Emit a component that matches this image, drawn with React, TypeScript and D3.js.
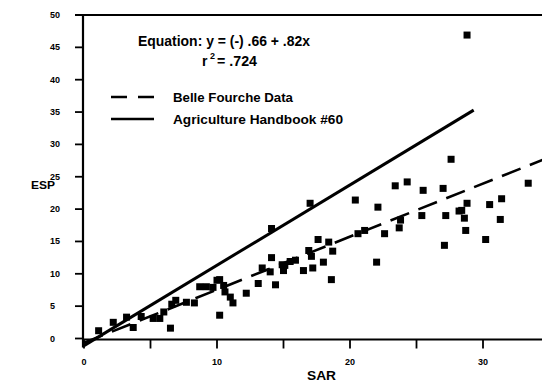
import React, { useEffect, useRef } from 'react';
import * as d3 from 'd3';

// Belle Fourche samples: SAR (x) and ESP (y)
const sar = [
	1.1, 2.2, 3.2, 3.7, 4.3, 5.2, 5.7, 6.0, 6.5, 6.6, 6.9, 7.7, 8.3, 8.7, 9.2, 9.7, 10.0, 10.2, 10.5, 10.6,
	11.0, 11.2, 10.2, 12.2, 13.1, 13.4, 14.1, 14.0, 14.4, 14.9, 15.5, 15.1, 15.0, 15.9, 16.5, 16.9, 17.1, 17.2,
	17.6, 18.0, 18.4, 18.7, 18.6, 14.1, 17.0, 20.4, 20.6, 21.1, 22.0, 22.1, 22.6, 23.7, 23.8, 23.4, 24.3, 25.5,
	25.4, 27.0, 27.2, 27.1, 27.6, 28.2, 28.4, 28.8, 28.6, 28.7, 28.8, 30.2, 30.5, 31.3, 31.4, 33.4,
];
const esp = [
	1.2, 2.5, 3.3, 1.7, 3.4, 3.1, 3.1, 4.1, 1.6, 5.3, 5.9, 5.6, 5.5, 8.0, 8.0, 7.9, 9.0, 9.1, 8.2, 7.2,
	6.4, 5.5, 3.6, 7.0, 8.5, 10.9, 12.5, 10.3, 8.3, 11.4, 11.9, 11.3, 10.5, 12.1, 10.5, 13.6, 12.7, 10.9,
	15.3, 11.8, 14.9, 13.5, 9.1, 17.0, 20.9, 21.4, 16.2, 16.7, 11.8, 20.3, 16.2, 17.1, 18.3, 23.6, 24.2, 22.9,
	19.0, 23.2, 19.0, 14.4, 27.7, 19.7, 19.8, 20.9, 18.6, 16.7, 46.9, 15.3, 20.7, 18.4, 21.6, 24.0,
];

// regression: y = -0.66 + 0.82x, drawn across the SAR range
const fitSar = [0, 34.5];
const fitEsp = fitSar.map(v => -0.66 + 0.82 * v);

// Agriculture Handbook #60 line
const handbookSar = [0, 29.3];
const handbookEsp = [-1.1, 35.3];

const yTicks = [0, 5, 10, 15, 20, 25, 30, 35, 40, 45, 50];
const xTicks = [0, 5, 10, 15, 20, 25, 30];
const xLabels = [0, 10, 20, 30];

const App = () => {
	const container = useRef(null);

	useEffect(() => {
		const node = container.current;
		const width = 542;
		const height = 383;
		const font = 'Liberation Sans, Arial, Helvetica, sans-serif';

		const x = d3.scaleLinear().domain([0, 30]).range([84, 483]);
		const y = d3.scaleLinear().domain([0, 50]).range([338.5, 15]);

		const svg = d3
			.select(node)
			.selectAll('svg')
			.data([0])
			.join('svg')
			.attr('width', width)
			.attr('height', height)
			.style('position', 'absolute')
			.style('left', '0px')
			.style('top', '0px')
			.style('background', '#fff')
			.attr('font-family', font)
			.attr('font-weight', 'bold');

		svg.selectAll('*').remove();

		// frame: left axis, bottom axis, top rule
		const ink = '#000';
		svg.append('line')
			.attr('x1', x(0) - 1)
			.attr('x2', x(0) - 1)
			.attr('y1', y(50))
			.attr('y2', y(0) + 9)
			.attr('stroke', ink)
			.attr('stroke-width', 2.2);
		svg.append('line')
			.attr('x1', x(0) - 2)
			.attr('x2', width)
			.attr('y1', y(0) + 1)
			.attr('y2', y(0) + 1)
			.attr('stroke', ink)
			.attr('stroke-width', 2);
		svg.append('line')
			.attr('x1', x(0) - 9)
			.attr('x2', width)
			.attr('y1', y(50))
			.attr('y2', y(50))
			.attr('stroke', ink)
			.attr('stroke-width', 2);

		// y ticks + labels
		const yg = svg.append('g');
		yg.selectAll('line')
			.data(yTicks)
			.join('line')
			.attr('x1', x(0) - 9)
			.attr('x2', x(0) - 1)
			.attr('y1', d => y(d))
			.attr('y2', d => y(d))
			.attr('stroke', ink)
			.attr('stroke-width', 1.8);
		yg.selectAll('text')
			.data(yTicks)
			.join('text')
			.attr('x', 50)
			.attr('y', d => y(d) + 3)
			.attr('font-size', 9)
			.text(d => d);

		// x ticks + labels
		const xg = svg.append('g');
		xg.selectAll('line')
			.data(xTicks)
			.join('line')
			.attr('x1', d => x(d))
			.attr('x2', d => x(d))
			.attr('y1', y(0) + 1)
			.attr('y2', y(0) + 10)
			.attr('stroke', ink)
			.attr('stroke-width', 1.8);
		xg.selectAll('text')
			.data(xLabels)
			.join('text')
			.attr('x', d => x(d))
			.attr('y', 365)
			.attr('text-anchor', 'middle')
			.attr('font-size', 9)
			.text(d => d);

		// axis titles
		svg.append('text')
			.attr('x', 31)
			.attr('y', 189)
			.attr('font-size', 11)
			.attr('textLength', 24)
			.attr('lengthAdjust', 'spacingAndGlyphs')
			.text('ESP');
		svg.append('text')
			.attr('x', 307)
			.attr('y', 380)
			.attr('font-size', 12)
			.attr('textLength', 29)
			.attr('lengthAdjust', 'spacingAndGlyphs')
			.text('SAR');

		// points
		const pts = sar.map((v, i) => ({ sar: v, esp: esp[i] }));
		const size = 7;
		svg.append('g')
			.selectAll('rect')
			.data(pts)
			.join('rect')
			.attr('x', d => x(d.sar) - size / 2)
			.attr('y', d => y(d.esp) - size / 2)
			.attr('width', size)
			.attr('height', size)
			.attr('fill', ink);

		const line = d3
			.line<number>()
			.x(d => x(d[0]))
			.y(d => y(d[1]));

		// handbook line (solid)
		svg.append('path')
			.attr('d', line(handbookSar.map((v, i) => [v, handbookEsp[i]])))
			.attr('fill', 'none')
			.attr('stroke', ink)
			.attr('stroke-width', 3);

		// regression line (dashed)
		svg.append('path')
			.attr('d', line(fitSar.map((v, i) => [v, fitEsp[i]])))
			.attr('fill', 'none')
			.attr('stroke', ink)
			.attr('stroke-width', 2.6)
			.attr('stroke-dasharray', '20,10');

		// legend / annotation
		svg.append('text')
			.attr('x', 138)
			.attr('y', 46)
			.attr('font-size', 14)
			.attr('textLength', 172)
			.attr('lengthAdjust', 'spacingAndGlyphs')
			.text('Equation: y = (-) .66 + .82x');
		svg.append('text')
			.attr('x', 202)
			.attr('y', 66)
			.attr('font-size', 14)
			.text('r');
		svg.append('text')
			.attr('x', 210)
			.attr('y', 59)
			.attr('font-size', 9)
			.text('2');
		svg.append('text')
			.attr('x', 217)
			.attr('y', 66)
			.attr('font-size', 14)
			.attr('textLength', 40)
			.attr('lengthAdjust', 'spacingAndGlyphs')
			.text('= .724');

		svg.append('line')
			.attr('x1', 111)
			.attr('x2', 154)
			.attr('y1', 97)
			.attr('y2', 97)
			.attr('stroke', ink)
			.attr('stroke-width', 2.6)
			.attr('stroke-dasharray', '16,11');
		svg.append('text')
			.attr('x', 173)
			.attr('y', 102)
			.attr('font-size', 13)
			.attr('textLength', 120)
			.attr('lengthAdjust', 'spacingAndGlyphs')
			.text('Belle Fourche Data');

		svg.append('line')
			.attr('x1', 111)
			.attr('x2', 154)
			.attr('y1', 119)
			.attr('y2', 119)
			.attr('stroke', ink)
			.attr('stroke-width', 2.4);
		svg.append('text')
			.attr('x', 173)
			.attr('y', 124)
			.attr('font-size', 13)
			.attr('textLength', 170)
			.attr('lengthAdjust', 'spacingAndGlyphs')
			.text('Agriculture Handbook #60');
	}, []);

	return <div ref={container}></div>;
};

export default App;
